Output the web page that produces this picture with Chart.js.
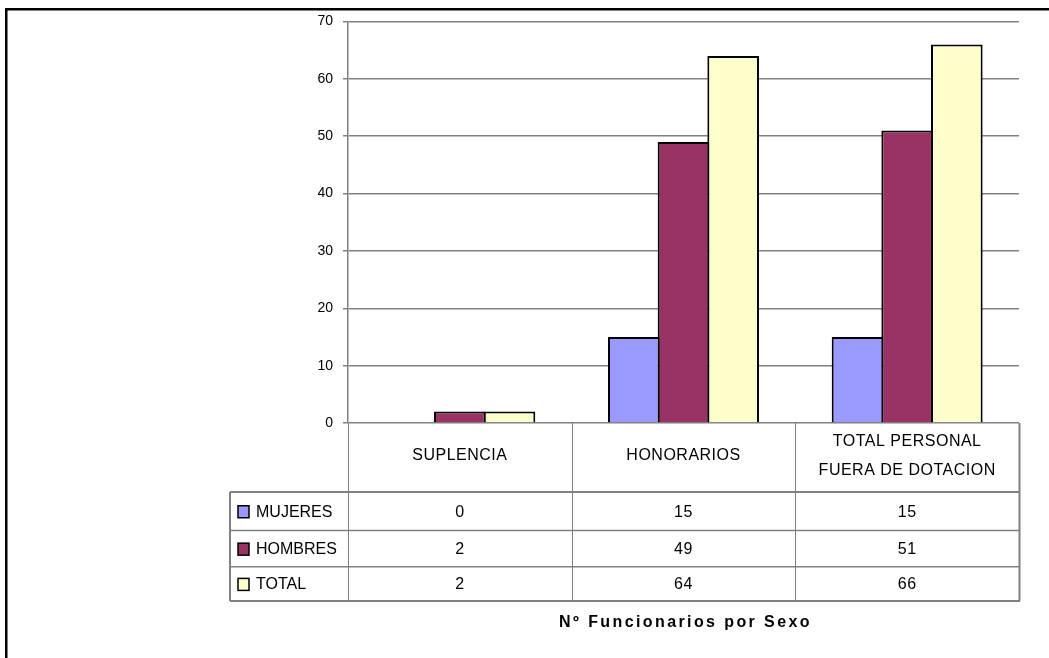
<!DOCTYPE html>
<html>
<head>
<meta charset="utf-8">
<script src="https://cdn.jsdelivr.net/npm/chart.js@4/dist/chart.umd.min.js"></script>
<style>
  html, body { margin: 0; padding: 0; background: #ffffff; }
  #wrap { width: 1049px; height: 658px; position: relative; }
</style>
</head>
<body>
<div id="wrap"><canvas id="c" width="1049" height="658"></canvas></div>
<script>
// ---- data ----
const categories = [["SUPLENCIA"], ["HONORARIOS"], ["TOTAL PERSONAL", "FUERA DE DOTACION"]];
const seriesNames = ["MUJERES", "HOMBRES", "TOTAL"];
const mujeres = [0, 15, 15];
const hombres = [2, 49, 51];
const total = [2, 64, 66];
const yMin = 0, yMax = 70, yStep = 10;
const chartTitle = "Nº Funcionarios por Sexo";

// ---- styles ----
const colors = ["#9999FF", "#993366", "#FFFFCC"];
const gridColor = "#808080";
const fontFamily = "'Liberation Sans', Arial, sans-serif";

const seriesValues = [mujeres, hombres, total];

const tablePlugin = {
  id: "tablePlugin",
  beforeDraw(chart) {
    const ctx = chart.ctx;
    ctx.save();
    ctx.fillStyle = "#ffffff";
    ctx.fillRect(0, 0, chart.width, chart.height);
    // outer frame (top and left edges)
    ctx.strokeStyle = "#000000";
    ctx.lineWidth = 2.5;
    ctx.beginPath();
    ctx.moveTo(6.25, chart.height);
    ctx.lineTo(6.25, 9.25);
    ctx.lineTo(chart.width, 9.25);
    ctx.stroke();
    ctx.restore();
  },
  afterDraw(chart) {
    const ctx = chart.ctx;
    const ca = chart.chartArea;
    const xs = chart.scales.x;
    const n = categories.length;
    const cw = (ca.right - ca.left) / n;
    const legendLeft = 230;
    const headerTop = ca.bottom;
    const rowBounds = [492, 530.5, 566.8, 601];

    ctx.save();
    ctx.strokeStyle = gridColor;

    // horizontal lines
    for (let r = 0; r < rowBounds.length; r++) {
      ctx.lineWidth = (r === 0 || r === rowBounds.length - 1) ? 2 : 1.5;
      ctx.beginPath();
      ctx.moveTo(legendLeft, rowBounds[r]);
      ctx.lineTo(ca.right + 1, rowBounds[r]);
      ctx.stroke();
    }
    // vertical lines in header + body
    for (let i = 0; i <= n; i++) {
      const xp = ca.left + i * cw;
      ctx.lineWidth = (i === n) ? 2 : 1;
      ctx.beginPath();
      ctx.moveTo(Math.round(xp) + 0.5, headerTop);
      ctx.lineTo(Math.round(xp) + 0.5, rowBounds[rowBounds.length - 1]);
      ctx.stroke();
    }
    // legend column left edge
    ctx.lineWidth = 2;
    ctx.beginPath();
    ctx.moveTo(legendLeft, rowBounds[0]);
    ctx.lineTo(legendLeft, rowBounds[rowBounds.length - 1]);
    ctx.stroke();

    // header labels
    ctx.fillStyle = "#000000";
    ctx.font = "16px " + fontFamily;
    ctx.textAlign = "center";
    ctx.textBaseline = "middle";
    if ("letterSpacing" in ctx) ctx.letterSpacing = "0.5px";
    const headerMid = 456;
    const lineH = 28.5;
    for (let i = 0; i < n; i++) {
      const cx = xs.getPixelForValue(i);
      const lines = categories[i];
      const startY = headerMid - (lines.length - 1) * lineH / 2;
      lines.forEach((ln, k) => ctx.fillText(ln, cx, startY + k * lineH));
    }

    // data rows
    for (let s = 0; s < seriesNames.length; s++) {
      const top = rowBounds[s], bot = rowBounds[s + 1];
      const my = (top + bot) / 2 + 1;
      ctx.textAlign = "center";
      if ("letterSpacing" in ctx) ctx.letterSpacing = "0.5px";
      for (let i = 0; i < n; i++) {
        ctx.fillText(String(seriesValues[s][i]), xs.getPixelForValue(i), my);
      }
      // legend swatch
      ctx.fillStyle = colors[s];
      ctx.fillRect(238, my - 6.5, 11, 12);
      ctx.strokeStyle = "#000000";
      ctx.lineWidth = 1.5;
      ctx.strokeRect(238, my - 6.5, 11, 12);
      ctx.fillStyle = "#000000";
      ctx.textAlign = "left";
      if ("letterSpacing" in ctx) ctx.letterSpacing = "0px";
      ctx.fillText(seriesNames[s], 256, my);
    }

    // bottom title
    ctx.font = "bold 16px " + fontFamily;
    if ("letterSpacing" in ctx) ctx.letterSpacing = "2.4px";
    ctx.textAlign = "center";
    ctx.fillText(chartTitle, (ca.left + ca.right) / 2 + 2, 623);
    ctx.restore();
  }
};

const datasets = seriesNames.map((name, s) => ({
  label: name,
  data: seriesValues[s],
  backgroundColor: colors[s],
  borderColor: "#000000",
  borderWidth: (c) => (c.raw === 0 ? 0 : 2),
  categoryPercentage: 0.666,
  barPercentage: 1.04
}));

new Chart(document.getElementById("c"), {
  type: "bar",
  data: { labels: categories.map(c => c.join(" ")), datasets },
  options: {
    responsive: false,
    animation: false,
    devicePixelRatio: 1,
    layout: { padding: { left: 0, top: 21.5, right: 30, bottom: 235 } },
    plugins: { legend: { display: false }, title: { display: false }, tooltip: { enabled: false } },
    scales: {
      x: { display: false },
      y: {
        min: yMin, max: yMax,
        afterFit(scale) { scale.width = 348; },
        ticks: {
          stepSize: yStep,
          padding: 10,
          color: "#000000",
          font: { family: fontFamily, size: 14 }
        },
        grid: {
          color: gridColor,
          lineWidth: 1.5,
          tickLength: 5,
          tickColor: gridColor,
          tickWidth: 1.5
        },
        border: { display: true, color: gridColor, width: 1.5 }
      }
    }
  },
  plugins: [tablePlugin]
});
</script>
</body>
</html>
